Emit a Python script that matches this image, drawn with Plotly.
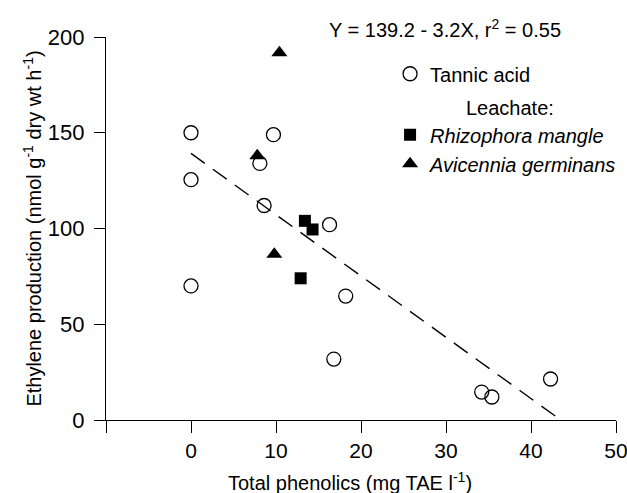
import plotly.graph_objects as go

# Tannic acid (open circles)
tannic_x = [0, 0, 0, 9.7, 8.1, 8.6, 16.3, 18.2, 16.8, 34.2, 35.4, 42.3]
tannic_y = [150, 125.5, 70, 149, 134, 112, 102, 64.7, 31.8, 14.6, 12, 21.4]

# Leachate: Rhizophora mangle (filled squares)
rhizo_x = [13.4, 14.3, 12.9]
rhizo_y = [104, 99.5, 74]

# Leachate: Avicennia germinans (filled triangles)
avic_x = [10.4, 7.8, 9.8]
avic_y = [191.8, 138, 86.5]

# Regression line Y = 139.2 - 3.2X (endpoints)
line_x = [0, 43]
line_y = [139.2, 1.6]

x_tickvals = [-10, 0, 10, 20, 30, 40, 50]
x_ticktext = ["", "0", "10", "20", "30", "40", "50"]
y_tickvals = [0, 50, 100, 150, 200]

TXT = "Liberation Sans, Arial, sans-serif"

fig = go.Figure()

fig.add_trace(go.Scatter(
    x=line_x, y=line_y, mode="lines",
    line=dict(color="black", width=1.4, dash="17px,10px"),
    showlegend=False, hoverinfo="skip"))

fig.add_trace(go.Scatter(
    x=tannic_x, y=tannic_y, mode="markers", name="Tannic acid",
    marker=dict(symbol="circle-open", size=14, color="black", line=dict(width=1.3)),
    legendgroup="a", cliponaxis=False))

fig.add_trace(go.Scatter(
    x=rhizo_x, y=rhizo_y, mode="markers", name="<i>Rhizophora mangle</i>",
    marker=dict(symbol="square", size=12, color="black"),
    legendgroup="b", cliponaxis=False))

fig.add_trace(go.Scatter(
    x=avic_x, y=avic_y, mode="markers", name="<i>Avicennia germinans</i>",
    marker=dict(symbol="triangle-up", size=14, color="black"),
    legendgroup="b", cliponaxis=False))

W, H = 627, 493
L, R, T, B = 106, 11, 37, 73
PW = W - L - R  # 510
PH = H - T - B  # 383

fig.update_layout(
    width=W, height=H,
    margin=dict(l=L, r=R, t=T, b=B, autoexpand=False),
    paper_bgcolor="white", plot_bgcolor="white",
    font=dict(family=TXT, size=20, color="black"),
    legend=dict(x=0.557, y=0.955, xanchor="left", yanchor="top",
                bgcolor="rgba(0,0,0,0)", tracegroupgap=32,
                font=dict(family=TXT, size=20), itemwidth=30,
                traceorder="grouped"),
    xaxis=dict(range=[-10, 50], tickvals=x_tickvals, ticktext=x_ticktext,
               showline=True, linecolor="black", linewidth=1.3,
               ticks="outside", ticklen=12, tickwidth=1.3, tickcolor="black",
               showgrid=False, zeroline=False, automargin=False,
               ticklabeloverflow="allow",
               tickfont=dict(family=TXT, size=21)),
    yaxis=dict(range=[0, 200], tickvals=y_tickvals,
               showline=True, linecolor="black", linewidth=1.3,
               ticks="outside", ticklen=11, tickwidth=1.3, tickcolor="black",
               showgrid=False, zeroline=False, automargin=False,
               tickfont=dict(family=TXT, size=22),
               ticklabelstandoff=5,
               title=dict(text="Ethylene production (nmol g<sup>-1</sup> dry wt h<sup>-1</sup>)",
                          font=dict(family=TXT, size=20), standoff=0)),
    annotations=[
        dict(text="Y = 139.2 - 3.2X, r<sup>2</sup> = 0.55", xref="paper", yref="paper",
             x=(445 - 106) / PW, y=1 + 9 / PH, showarrow=False, font=dict(family=TXT, size=20),
             xanchor="center", yanchor="middle"),
        dict(text="Leachate:", xref="paper", yref="paper",
             x=(510 - 106) / PW, y=(420 - 108) / PH, showarrow=False,
             font=dict(family=TXT, size=20), xanchor="center", yanchor="middle"),
        dict(text="Total phenolics (mg TAE l<sup>-1</sup>)", xref="paper", yref="paper",
             x=(350 - 106) / PW, y=-(481 - 420) / PH, showarrow=False,
             font=dict(family=TXT, size=20), xanchor="center", yanchor="middle"),
    ],
)

# remove the default page margin so the figure sits at the window's top-left corner
fig.write_html("out.html",
               config={"displayModeBar": False},
               post_script="document.body.style.margin='0';document.body.style.overflow='hidden';")
